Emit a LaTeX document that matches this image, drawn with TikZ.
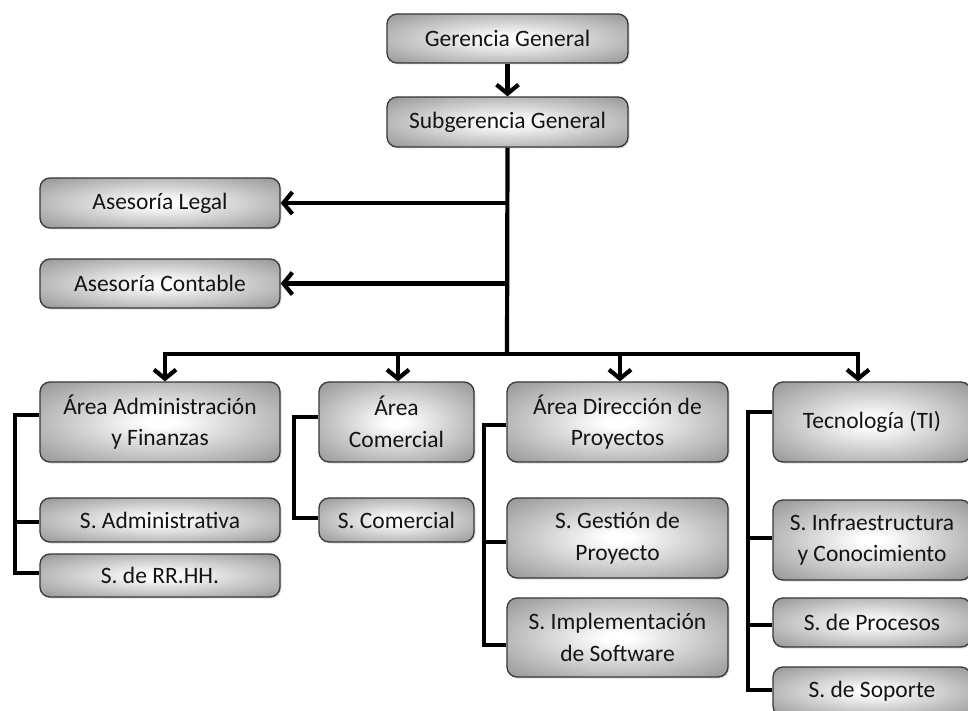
\documentclass[tikz,border=0pt]{standalone}
\usepackage{fontspec}
\setmainfont{Carlito}
\usetikzlibrary{arrows.meta,shadows}

\definecolor{boxgray}{RGB}{128,128,128}
\definecolor{boxrim}{RGB}{55,55,55}
\definecolor{inktext}{RGB}{20,20,20}

% white centre fading to grey towards the rim
\pgfdeclareradialshading{boxglow}{\pgfpoint{0bp}{0bp}}{%
  color(0bp)=(white); color(3bp)=(white);
  color(42bp)=(boxgray); color(72bp)=(boxgray!85!black)}

\tikzset{
  unit/.style={draw=boxrim, line width=1.3pt, rounded corners=10pt,
    shading=boxglow, text=inktext, align=center, inner sep=0pt,
    font=\fontsize{23.5}{31.5}\selectfont,
    drop shadow={shadow xshift=1.5pt, shadow yshift=-1.5pt, opacity=0.25}},
  link/.style={line width=4.2pt, black, line join=miter},
  feed/.style={link, -{Straight Barb[length=9pt,width=22pt]}},
}

\begin{document}
\begin{tikzpicture}[x=1pt, y=-1pt]
\useasboundingbox (0,0) rectangle (968,711);
\clip (0,0) rectangle (968,711);
\fill[white] (0,0) rectangle (968,711);

% management
\node[unit, minimum width=241pt, minimum height=49pt] (gg)   at (507.5,38.5) {Gerencia General};
\node[unit, minimum width=241pt, minimum height=50pt] (sg)   at (507.5,122)  {Subgerencia General};

% advisory units
\node[unit, minimum width=240pt, minimum height=50pt] (al)   at (160,203)    {Asesoría Legal};
\node[unit, minimum width=240pt, minimum height=49pt] (ac)   at (160,283.5)  {Asesoría Contable};

% administration and finance
\node[unit, minimum width=240pt, minimum height=80pt] (aaf)  at (160,422)    {Área Administración\\y Finanzas};
\node[unit, minimum width=240pt, minimum height=44pt] (sadm) at (160,520)    {S. Administrativa};
\node[unit, minimum width=240pt, minimum height=43pt] (srh)  at (160,575.5)  {S. de RR.HH.};

% commercial
\node[unit, minimum width=155pt, minimum height=80pt] (acom) at (396.5,422)  {Área\\Comercial};
\node[unit, minimum width=155pt, minimum height=44pt] (scom) at (396.5,520)  {S. Comercial};

% projects
\node[unit, minimum width=221pt, minimum height=80pt] (adp)  at (617.5,422)  {Área Dirección de\\Proyectos};
\node[unit, minimum width=221pt, minimum height=80pt] (sgp)  at (617.5,538)  {S. Gestión de\\Proyecto};
\node[unit, minimum width=221pt, minimum height=79pt] (sis)  at (617.5,637.5){S. Implementación\\de Software};

% technology
\node[unit, minimum width=198pt, minimum height=80pt] (tec)  at (872,422)    {Tecnología (TI)};
\node[unit, minimum width=198pt, minimum height=80pt] (sinf) at (872,540)    {S. Infraestructura\\y Conocimiento};
\node[unit, minimum width=198pt, minimum height=49pt] (sproc) at (872,622.5) {S. de Procesos};
\node[unit, minimum width=198pt, minimum height=49pt] (ssop) at (872,691.5)  {S. de Soporte};

% bus taps
\coordinate (busM) at (507,354);
\coordinate (t1) at (165,354);
\coordinate (t2) at (398,354);
\coordinate (t3) at (620,354);
\coordinate (t4) at (858,354);

% main trunk
\draw[feed] (gg) -- (sg);
\draw[link] (sg.south) -- (busM);
\draw[feed] (sg.south |- al.east) -- (al.east);
\draw[feed] (sg.south |- ac.east) -- (ac.east);
\draw[feed] (busM) -| (aaf.north -| t1);
\draw[feed] (busM) -| (tec.north -| t4);
\draw[feed] (t2) -- (acom.north -| t2);
\draw[feed] (t3) -- (adp.north -| t3);

% administration bracket
\draw[link] (aaf.west |- 0,415) -- (15,415) -- (15,573) -- (srh.west |- 0,573);
\draw[link] (15,522) -- (sadm.west |- 0,522);

% commercial bracket
\draw[link] (acom.west |- 0,417) -- (294,417) -- (294,518) -- (scom.west |- 0,518);

% projects bracket
\draw[link] (adp.west |- 0,425) -- (484,425) -- (484,645) -- (sis.west |- 0,645);
\draw[link] (484,542) -- (sgp.west |- 0,542);

% technology bracket
\draw[link] (tec.west |- 0,412) -- (748,412) -- (748,690) -- (ssop.west |- 0,690);
\draw[link] (748,538) -- (sinf.west |- 0,538);
\draw[link] (748,625) -- (sproc.west |- 0,625);
\end{tikzpicture}
\end{document}
